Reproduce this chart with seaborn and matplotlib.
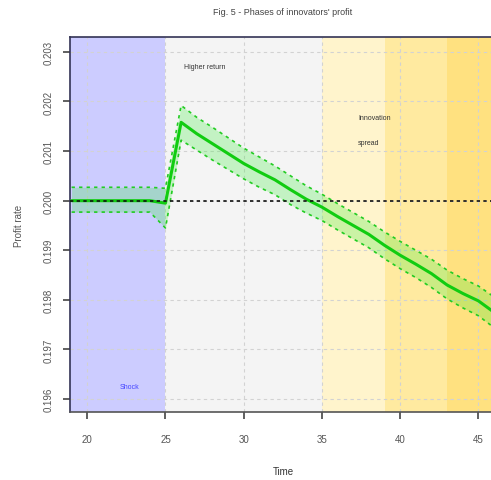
import numpy as np
import pandas as pd
import matplotlib
matplotlib.use("Agg")
import matplotlib.pyplot as plt
import seaborn as sns

# Simulated profit rate of innovators (mean and confidence band)
time = [19, 20, 21, 22, 23, 24, 25, 26, 27, 28, 29, 30, 31, 32, 33, 34, 35,
        36, 37, 38, 39, 40, 41, 42, 43, 44, 45, 46]
profit = [0.20000, 0.20000, 0.20000, 0.20000, 0.20000, 0.20000, 0.19995,
          0.20158, 0.20135, 0.20115, 0.20095, 0.20075, 0.20058, 0.20042,
          0.20022, 0.20003, 0.19987, 0.19968, 0.19950, 0.19932, 0.19910,
          0.19890, 0.19872, 0.19853, 0.19830, 0.19813, 0.19798, 0.19775]
upper = [0.20027, 0.20027, 0.20027, 0.20027, 0.20027, 0.20027, 0.20025,
         0.20192, 0.20168, 0.20148, 0.20127, 0.20106, 0.20088, 0.20070,
         0.20050, 0.20030, 0.20013, 0.19994, 0.19976, 0.19958, 0.19937,
         0.19918, 0.19900, 0.19882, 0.19860, 0.19843, 0.19828, 0.19806]
lower = [0.19977, 0.19977, 0.19977, 0.19977, 0.19977, 0.19977, 0.19945,
         0.20122, 0.20102, 0.20082, 0.20063, 0.20044, 0.20027, 0.20012,
         0.19992, 0.19975, 0.19960, 0.19941, 0.19923, 0.19905, 0.19883,
         0.19863, 0.19845, 0.19825, 0.19802, 0.19784, 0.19768, 0.19744]

# Phase shading
phase_start = [18.9, 25, 35, 39, 43]
phase_end = [25, 35, 39, 43, 46.5]
phase_color = ["#ccccff", "#f4f4f4", "#fff4cc", "#ffeaa0", "#ffe180"]

xticks = [20, 25, 30, 35, 40, 45]
yticks = [0.196, 0.197, 0.198, 0.199, 0.200, 0.201, 0.202, 0.203]

df = pd.DataFrame({"Time": time, "Profit": profit, "Upper": upper, "Lower": lower})

sns.set_style("ticks")
plt.rcParams["font.family"] = ["Liberation Sans", "DejaVu Sans"]

fig = plt.figure(figsize=(4.91, 4.81), dpi=100)
ax = fig.add_axes([0.1426, 0.1414, 0.87, 0.7796])

for s, e, c in zip(phase_start, phase_end, phase_color):
    ax.axvspan(s, e, color=c, lw=0, zorder=0)

for xt in xticks:
    ax.axvline(xt, color="#d2d2d2", ls=(0, (3, 3)), lw=0.8, zorder=1)
for yt in yticks:
    ax.axhline(yt, color="#d2d2d2", ls=(0, (3, 3)), lw=0.8, zorder=1)

ax.fill_between(df["Time"], df["Lower"], df["Upper"], color="#33ee33", alpha=0.25,
                lw=0, zorder=2)
sns.lineplot(data=df, x="Time", y="Upper", ax=ax, color="#22cc22", lw=1.2,
             ls=(0, (2, 2.5)), zorder=3)
sns.lineplot(data=df, x="Time", y="Lower", ax=ax, color="#22cc22", lw=1.2,
             ls=(0, (2, 2.5)), zorder=3)
sns.lineplot(data=df, x="Time", y="Profit", ax=ax, color="#11cc11", lw=2.2, zorder=4)

ax.axhline(0.200, color="#111111", ls=(0, (2, 2)), lw=1.2, zorder=5)

ax.text(26.2, 0.20270, "Higher return", fontsize=5, color="#333333", va="center")
ax.text(37.3, 0.20168, "Innovation", fontsize=5, color="#333333", va="center")
ax.text(37.3, 0.20118, "spread", fontsize=5, color="#333333", va="center")
ax.text(22.1, 0.19625, "Shock", fontsize=5, color="#4444ff", va="center")

ax.set_xlim(18.9, 46.2)
ax.set_ylim(0.19574, 0.20330)
ax.set_xticks(xticks)
ax.set_yticks(yticks)
ax.set_yticklabels([f"{v:.3f}" for v in yticks], rotation=90, va="center")
ax.tick_params(axis="both", labelsize=7, colors="#444444", length=5, width=1.2)
ax.tick_params(axis="x", pad=11)
ax.tick_params(axis="y", pad=7)
for lab in ax.get_xticklabels() + ax.get_yticklabels():
    lab.set_color("#555555")

for side in ["left", "top"]:
    ax.spines[side].set_color("#333355")
    ax.spines[side].set_linewidth(1.2)
ax.spines["bottom"].set_color("#555555")
ax.spines["bottom"].set_linewidth(1.2)
ax.spines["right"].set_visible(False)

ax.set_xlabel("Time", fontsize=7, color="#333333", labelpad=16)
ax.set_ylabel("Profit rate", fontsize=7, color="#555555", labelpad=14)
fig.text(0.576, 0.975, "Fig. 5 - Phases of innovators' profit", fontsize=6.5,
         color="#444444", ha="center", va="center")

fig.savefig("out.png", dpi=100)
